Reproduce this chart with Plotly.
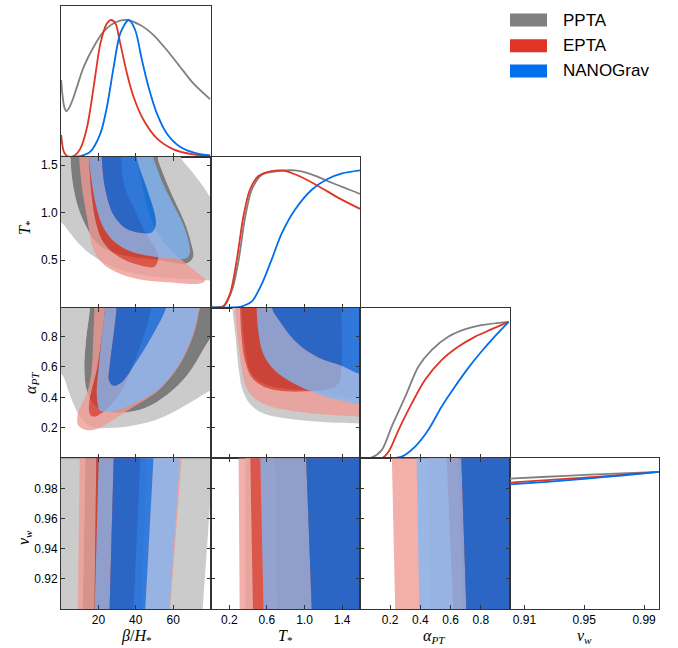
import plotly.graph_objects as go
from plotly.subplots import make_subplots

# ---------------- series / colours ----------------
series_names = ["PPTA", "EPTA", "NANOGrav"]
line_colors = {"PPTA": "#808080", "EPTA": "#E03424", "NANOGrav": "#006FED"}
fill_2s = {"PPTA": "rgb(203,203,203)", "EPTA": "rgba(240,154,146,0.78)", "NANOGrav": "rgba(128,183,246,0.78)"}
fill_1s = {"PPTA": "rgb(124,124,124)", "EPTA": "rgba(224,52,36,0.78)", "NANOGrav": "rgba(0,111,237,0.78)"}

# ---------------- axes ----------------
beta_range = [0, 80]
T_range = [0.0, 1.59]
alpha_range = [0.0, 0.99]
vw_range = [0.9, 1.0]
beta_ticks = [20, 40, 60]
T_xticks = [0.2, 0.6, 1.0, 1.4]
T_yticks = [0.5, 1.0, 1.5]
alpha_ticks = [0.2, 0.4, 0.6, 0.8]
vw_xticks = [0.91, 0.95, 0.99]
vw_yticks = [0.92, 0.94, 0.96, 0.98]
diag_range = [0, 1.1]

# ---------------- 1D marginals ----------------
beta_ppta_x = [0.09, 0.8, 1.8, 2.9, 4.5, 6.8, 12.2, 17.5, 22.8, 28.2, 35.3, 42.4, 49.5, 56.6, 63.7, 70.8, 79.9]
beta_ppta_p = [0.56, 0.45, 0.36, 0.333, 0.36, 0.438, 0.657, 0.803, 0.913, 0.974, 0.998, 0.961, 0.888, 0.779, 0.657, 0.535, 0.419]
beta_epta_x = [0.09, 1.5, 3.3, 6.8, 10.4, 14.0, 17.5, 21.1, 24.6, 26.8, 29.1, 31.7, 35.3, 38.8, 44.2, 51.3, 60.2, 70.8, 79.9]
beta_epta_p = [0.158, 0.037, 0.005, 0.005, 0.061, 0.219, 0.511, 0.827, 0.974, 0.998, 0.974, 0.827, 0.608, 0.438, 0.268, 0.134, 0.054, 0.017, 0.007]
beta_nano_x = [0.09, 10.4, 15.7, 21.1, 24.6, 28.2, 31.7, 36.2, 39.7, 43.3, 46.8, 51.3, 56.6, 63.7, 72.6, 79.9]
beta_nano_p = [0.0, 0.005, 0.037, 0.17, 0.365, 0.657, 0.90, 0.998, 0.925, 0.706, 0.511, 0.316, 0.17, 0.073, 0.024, 0.01]

T_ppta_x = [0.0, 0.08, 0.14, 0.23, 0.30, 0.37, 0.44, 0.55, 0.72, 0.90, 1.08, 1.29, 1.59]
T_ppta_p = [0.0, 0.0, 0.007, 0.129, 0.349, 0.666, 0.861, 0.97, 0.995, 1.0, 0.97, 0.91, 0.829]
T_epta_x = [0.0, 0.08, 0.14, 0.21, 0.28, 0.35, 0.42, 0.51, 0.65, 0.76, 0.93, 1.15, 1.36, 1.59]
T_epta_p = [0.0, 0.0, 0.012, 0.105, 0.349, 0.666, 0.861, 0.959, 0.995, 1.0, 0.963, 0.885, 0.80, 0.72]
T_nano_x = [0.0, 0.25, 0.33, 0.44, 0.55, 0.65, 0.76, 0.90, 1.08, 1.25, 1.40, 1.59]
T_nano_p = [0.0, 0.0, 0.007, 0.044, 0.178, 0.349, 0.544, 0.715, 0.861, 0.939, 0.978, 1.0]

a_ppta_x = [0.0, 0.08, 0.145, 0.21, 0.30, 0.386, 0.474, 0.584, 0.693, 0.803, 0.985]
a_ppta_p = [0.0, 0.007, 0.061, 0.231, 0.449, 0.668, 0.789, 0.886, 0.94, 0.971, 0.995]
a_epta_x = [0.0, 0.145, 0.19, 0.255, 0.343, 0.43, 0.54, 0.65, 0.76, 0.869, 0.985]
a_epta_p = [0.0, 0.0, 0.049, 0.206, 0.40, 0.571, 0.716, 0.813, 0.886, 0.94, 0.995]
a_nano_x = [0.0, 0.21, 0.277, 0.365, 0.452, 0.54, 0.628, 0.715, 0.803, 0.89, 0.985]
a_nano_p = [0.0, 0.0, 0.012, 0.085, 0.206, 0.376, 0.522, 0.656, 0.777, 0.886, 0.995]

vw_x = [0.9, 0.925, 0.95, 0.975, 1.0]
vw_ppta_p = [0.951, 0.965, 0.978, 0.99, 1.0]
vw_epta_p = [0.922, 0.94, 0.958, 0.978, 1.0]
vw_nano_p = [0.909, 0.928, 0.95, 0.974, 1.0]

# ---------------- 2D contours: beta vs T* (outer = 95%, inner = 68%) ----------------
bT_ppta_out_x = [-8, -8, 0.27, 4.0, 8.4, 14.7, 21.8, 30.7, 43.1, 57.3, 69.8, 80, 90, 90, 80, 76, 69.8, 64, 63]
bT_ppta_out_y = [1.8, 0.97, 0.895, 0.81, 0.70, 0.58, 0.486, 0.405, 0.346, 0.31, 0.297, 0.285, 0.28, 0.93, 1.16, 1.28, 1.44, 1.59, 1.8]
bT_ppta_in_x = [4.9, 5.4, 6.7, 9.3, 13.8, 18.2, 25.3, 34.2, 52.0, 67.1, 70.7, 69.4, 65.9, 60.0, 54.1, 51.6, 51]
bT_ppta_in_y = [1.8, 1.47, 1.26, 1.05, 0.84, 0.70, 0.60, 0.545, 0.50, 0.465, 0.53, 0.70, 0.91, 1.16, 1.44, 1.59, 1.8]
bT_epta_out_x = [9.7, 9.7, 11.5, 14.3, 17.0, 21.8, 30.7, 43.1, 59.1, 75.1, 77.2, 74.4, 66.2, 56.6, 50.2, 46.0, 43.1, 40.6, 40.3]
bT_epta_out_y = [1.8, 1.59, 1.23, 0.91, 0.63, 0.475, 0.363, 0.293, 0.265, 0.255, 0.29, 0.346, 0.475, 0.65, 0.84, 1.07, 1.33, 1.56, 1.8]
bT_epta_in_x = [15.0, 15.0, 16.4, 18.6, 21.8, 27.1, 33.3, 41.3, 48.4, 50.6, 52.0, 50.2, 45.2, 39.6, 34.2, 32.1, 31.6]
bT_epta_in_y = [1.8, 1.59, 1.19, 0.91, 0.72, 0.59, 0.51, 0.45, 0.423, 0.44, 0.53, 0.63, 0.79, 1.02, 1.26, 1.59, 1.8]
bT_nano_out_x = [15.0, 15.0, 16.4, 18.6, 21.8, 27.1, 36.0, 46.7, 59.1, 67.1, 68.9, 68.4, 65.3, 60.0, 54.7, 50.6, 49.3, 49.3]
bT_nano_out_y = [1.8, 1.59, 1.33, 1.09, 0.88, 0.72, 0.60, 0.545, 0.52, 0.52, 0.57, 0.685, 0.88, 1.09, 1.30, 1.51, 1.59, 1.8]
bT_nano_in_x = [21.8, 21.8, 23.6, 28.0, 34.2, 41.3, 48.4, 50.6, 50.2, 45.8, 40.4, 40.4]
bT_nano_in_y = [1.8, 1.59, 1.26, 0.98, 0.84, 0.79, 0.79, 0.86, 0.98, 1.26, 1.59, 1.8]

# ---------------- beta vs alpha_PT ----------------
ba_ppta_out_x = [-8, -8, 0.27, 4.0, 6.7, 11.1, 16.4, 25.3, 37.8, 52.0, 66.2, 79.7, 90, 90]
ba_ppta_out_y = [1.15, 0.60, 0.554, 0.444, 0.356, 0.257, 0.207, 0.198, 0.213, 0.257, 0.345, 0.444, 0.51, 1.15]
ba_ppta_in_x = [16.4, 15.6, 13.2, 12.5, 13.8, 17.3, 23.6, 32.4, 44.9, 57.3, 68.0, 76.9, 84.0, 90]
ba_ppta_in_y = [1.15, 0.996, 0.752, 0.576, 0.444, 0.356, 0.312, 0.30, 0.33, 0.422, 0.554, 0.73, 0.884, 1.15]
ba_epta_out_x = [17.9, 17.9, 17.3, 16.4, 14.3, 11.1, 8.8, 9.3, 13.8, 20.0, 27.1, 37.8, 52.0, 62.7, 69.8, 73.3, 74.8]
ba_epta_out_y = [1.15, 0.996, 0.796, 0.576, 0.444, 0.356, 0.279, 0.213, 0.185, 0.196, 0.246, 0.33, 0.444, 0.598, 0.774, 0.928, 1.15]
ba_epta_in_x = [23.6, 23.6, 21.8, 19.1, 16.4, 15.0, 15.6, 18.2, 20.9, 25.3, 32.4, 38.7, 44.0, 48.4, 48.9]
ba_epta_in_y = [1.15, 0.996, 0.796, 0.576, 0.444, 0.356, 0.286, 0.273, 0.29, 0.334, 0.444, 0.62, 0.796, 0.996, 1.15]
ba_nano_out_x = [23.6, 23.6, 21.8, 20.0, 19.1, 19.6, 20.9, 27.1, 37.4, 51.5, 62.1, 69.2, 72.8, 74.0]
ba_nano_out_y = [1.15, 0.996, 0.796, 0.576, 0.444, 0.356, 0.312, 0.308, 0.352, 0.449, 0.598, 0.774, 0.928, 1.15]
ba_nano_in_x = [29.8, 29.8, 28.0, 26.2, 25.7, 28.0, 32.4, 39.6, 48.4, 56.4, 57.5]
ba_nano_in_y = [1.15, 0.996, 0.796, 0.62, 0.51, 0.477, 0.499, 0.62, 0.796, 0.996, 1.15]

# ---------------- T* vs alpha_PT ----------------
Ta_ppta_out_x = [0.232, 0.232, 0.267, 0.302, 0.338, 0.42, 0.56, 0.79, 1.108, 1.589, 1.85, 1.85]
Ta_ppta_out_y = [1.15, 0.996, 0.796, 0.576, 0.455, 0.356, 0.295, 0.262, 0.242, 0.229, 0.225, 1.15]
Ta_ppta_in_x = [0.33, 0.33, 0.359, 0.437, 0.614, 1.038, 1.85, 1.85]
Ta_ppta_in_y = [1.15, 0.996, 0.752, 0.554, 0.477, 0.444, 0.427, 1.15]
Ta_epta_out_x = [0.26, 0.26, 0.288, 0.324, 0.366, 0.454, 0.614, 0.861, 1.144, 1.589, 1.85, 1.85]
Ta_epta_out_y = [1.15, 0.996, 0.796, 0.62, 0.488, 0.40, 0.345, 0.312, 0.29, 0.273, 0.268, 1.15]
Ta_epta_in_x = [0.313, 0.313, 0.33, 0.366, 0.437, 0.578, 0.79, 1.038, 1.25, 1.356, 1.39, 1.39, 1.39]
Ta_epta_in_y = [1.15, 0.996, 0.796, 0.642, 0.532, 0.466, 0.44, 0.44, 0.455, 0.488, 0.576, 0.996, 1.15]
Ta_nano_out_x = [0.49, 0.49, 0.507, 0.56, 0.684, 0.896, 1.144, 1.39, 1.589, 1.85, 1.85]
Ta_nano_out_y = [1.15, 0.996, 0.84, 0.686, 0.576, 0.488, 0.422, 0.378, 0.356, 0.345, 1.15]
Ta_nano_in_x = [0.649, 0.649, 0.755, 0.932, 1.144, 1.39, 1.589, 1.85, 1.85]
Ta_nano_in_y = [1.15, 0.996, 0.884, 0.752, 0.664, 0.609, 0.554, 0.54, 1.15]

# ---------------- v_w rows: band edges [at v_w=1.0, at v_w=0.9] ----------------
# order: outer-left, outer-right, inner-left, inner-right
bv_ppta = [[-10, -10], [81.5, 75.8], [13.1, 11.6], [46.0, 43.0]]
bv_epta = [[10.0, 9.0], [64.6, 58.4], [18.9, 17.9], [42.4, 38.8]]
bv_nano = [[20.2, 18.0], [63.7, 58.0], [28.2, 26.0], [49.5, 45.1]]
Tv_ppta = [[0.37, 0.37], [2.0, 2.0], [0.688, 0.705], [2.0, 2.0]]
Tv_epta = [[0.299, 0.31], [2.0, 2.0], [0.423, 0.451], [2.0, 2.0]]
Tv_nano = [[0.529, 0.564], [2.0, 2.0], [1.017, 1.077], [2.0, 2.0]]
av_ppta = [[0.45, 0.47], [1.2, 1.2], [0.65, 0.68], [1.2, 1.2]]
av_epta = [[0.211, 0.233], [1.2, 1.2], [0.573, 0.617], [1.2, 1.2]]
av_nano = [[0.375, 0.393], [1.2, 1.2], [0.671, 0.704], [1.2, 1.2]]

# ---------------- figure ----------------
W, H = 678, 648
ML, MR, MT, MB = 61, 19, 6, 39
fig = make_subplots(rows=4, cols=4, horizontal_spacing=0, vertical_spacing=0,
                    specs=[[{} if c <= r else None for c in range(4)] for r in range(4)])


def px_x(px):
    return (px - ML) / (W - ML - MR)


def px_y(py):
    return 1 - (py - MT) / (H - MT - MB)


def add_fill(x, y, color, row, col, shape="spline"):
    fig.add_trace(go.Scatter(x=x, y=y, mode="lines", fill="toself", fillcolor=color,
                             line=dict(width=0, shape=shape, smoothing=1.0),
                             hoverinfo="skip", showlegend=False), row=row, col=col)


def add_contours(name, ox, oy, ix, iy, row, col):
    # 95% band = outer region minus the 68% region
    bx = list(ox) + list(ix)[::-1]
    by = list(oy) + list(iy)[::-1]
    clean_x, clean_y = [], []
    for a, b in zip(bx, by):
        if clean_x and clean_x[-1] == a and clean_y[-1] == b:
            continue
        clean_x.append(a)
        clean_y.append(b)
    add_fill(clean_x, clean_y, fill_2s[name], row, col)
    add_fill(ix, iy, fill_1s[name], row, col)


def add_bands(name, edges, row, col):
    vt, vb = 1.02, 0.88

    def at(e, v):
        return e[1] + (e[0] - e[1]) * (v - 0.9) / 0.1
    oL, oR, iL, iR = edges
    bx = [at(oL, vb), at(oL, vt), at(iL, vt), at(iL, vb), at(iR, vb), at(iR, vt), at(oR, vt), at(oR, vb)]
    by = [vb, vt, vt, vb, vb, vt, vt, vb]
    add_fill(bx, by, fill_2s[name], row, col, shape="linear")
    add_fill([at(iL, vb), at(iL, vt), at(iR, vt), at(iR, vb)], [vb, vt, vt, vb],
             fill_1s[name], row, col, shape="linear")


panels2d = {
    (2, 1): [("PPTA", bT_ppta_out_x, bT_ppta_out_y, bT_ppta_in_x, bT_ppta_in_y),
             ("EPTA", bT_epta_out_x, bT_epta_out_y, bT_epta_in_x, bT_epta_in_y),
             ("NANOGrav", bT_nano_out_x, bT_nano_out_y, bT_nano_in_x, bT_nano_in_y)],
    (3, 1): [("PPTA", ba_ppta_out_x, ba_ppta_out_y, ba_ppta_in_x, ba_ppta_in_y),
             ("EPTA", ba_epta_out_x, ba_epta_out_y, ba_epta_in_x, ba_epta_in_y),
             ("NANOGrav", ba_nano_out_x, ba_nano_out_y, ba_nano_in_x, ba_nano_in_y)],
    (3, 2): [("PPTA", Ta_ppta_out_x, Ta_ppta_out_y, Ta_ppta_in_x, Ta_ppta_in_y),
             ("EPTA", Ta_epta_out_x, Ta_epta_out_y, Ta_epta_in_x, Ta_epta_in_y),
             ("NANOGrav", Ta_nano_out_x, Ta_nano_out_y, Ta_nano_in_x, Ta_nano_in_y)],
}
for (r, c), lst in panels2d.items():
    for name, ox, oy, ix, iy in lst:
        add_contours(name, ox, oy, ix, iy, r, c)

bands = {
    (4, 1): [("PPTA", bv_ppta), ("EPTA", bv_epta), ("NANOGrav", bv_nano)],
    (4, 2): [("PPTA", Tv_ppta), ("EPTA", Tv_epta), ("NANOGrav", Tv_nano)],
    (4, 3): [("PPTA", av_ppta), ("EPTA", av_epta), ("NANOGrav", av_nano)],
}
for (r, c), lst in bands.items():
    for name, edges in lst:
        add_bands(name, edges, r, c)

diag = {
    1: [("PPTA", beta_ppta_x, beta_ppta_p), ("EPTA", beta_epta_x, beta_epta_p), ("NANOGrav", beta_nano_x, beta_nano_p)],
    2: [("PPTA", T_ppta_x, T_ppta_p), ("EPTA", T_epta_x, T_epta_p), ("NANOGrav", T_nano_x, T_nano_p)],
    3: [("PPTA", a_ppta_x, a_ppta_p), ("EPTA", a_epta_x, a_epta_p), ("NANOGrav", a_nano_x, a_nano_p)],
    4: [("PPTA", vw_x, vw_ppta_p), ("EPTA", vw_x, vw_epta_p), ("NANOGrav", vw_x, vw_nano_p)],
}
for k, lst in diag.items():
    for name, x, p in lst:
        fig.add_trace(go.Scatter(x=x, y=p, mode="lines",
                                 line=dict(color=line_colors[name], width=1.8, shape="spline", smoothing=0.8),
                                 hoverinfo="skip", showlegend=False), row=k, col=k)

# ---------------- axes styling ----------------
var_range = [beta_range, T_range, alpha_range, vw_range]
var_xticks = [beta_ticks, T_xticks, alpha_ticks, vw_xticks]
var_yticks = [None, T_yticks, alpha_ticks, vw_yticks]
var_fmt = ["d", ".1f", ".1f", ".2f"]
tickfont = dict(family="Liberation Sans, Arial, sans-serif", size=12, color="black")
axcommon = dict(showline=True, linecolor="#333333", linewidth=1, showgrid=False, zeroline=False,
                ticks="inside", ticklen=4, tickwidth=1, tickcolor="#333333", tickfont=tickfont)

for r in range(4):
    for c in range(r + 1):
        fig.update_xaxes(range=var_range[c], tickvals=var_xticks[c], tickformat=var_fmt[c],
                         showticklabels=(r == 3), mirror=(True if r == c else "ticks"),
                         row=r + 1, col=c + 1, **axcommon)
        if r == c:
            fig.update_yaxes(range=diag_range, showticklabels=False, mirror=True,
                             row=r + 1, col=c + 1,
                             **{**axcommon, "ticks": ""})
        else:
            fig.update_yaxes(range=var_range[r], tickvals=var_yticks[r], tickformat=var_fmt[r],
                             showticklabels=(c == 0), mirror="ticks",
                             row=r + 1, col=c + 1, **axcommon)

# ---------------- axis titles ----------------
tfont = dict(family="Liberation Serif, DejaVu Serif, serif", size=16, color="black")
xtitles = [("<i>β</i>/<i>H</i><sub>*</sub>", 136),
           ("<i>T</i><sub>*</sub>", 285),
           ("<i>α</i><sub><i>PT</i></sub>", 434),
           ("<i>v</i><sub><i>w</i></sub>", 584)]
for txt, px in xtitles:
    fig.add_annotation(text=txt, x=px_x(px), y=px_y(625), xref="paper", yref="paper",
                       showarrow=False, font=tfont, xanchor="center", yanchor="top")
ytitles = [("<i>T</i><sub>*</sub>", 25, 228),
           ("<i>α</i><sub><i>PT</i></sub>", 31, 383),
           ("<i>v</i><sub><i>w</i></sub>", 24, 538)]
for txt, px, py in ytitles:
    fig.add_annotation(text=txt, x=px_x(px), y=px_y(py), xref="paper", yref="paper",
                       showarrow=False, font=tfont, textangle=-90, xanchor="center", yanchor="middle")

# ---------------- legend ----------------
leg_rows = [20, 45.7, 71]
for name, cy in zip(series_names, leg_rows):
    fig.add_shape(type="rect", xref="paper", yref="paper",
                  x0=px_x(510), x1=px_x(547), y0=px_y(cy + 6.5), y1=px_y(cy - 6.5),
                  fillcolor=line_colors[name], line=dict(width=0))
    fig.add_annotation(text=name, x=px_x(561), y=px_y(cy), xref="paper", yref="paper",
                       showarrow=False, xanchor="left", yanchor="middle",
                       font=dict(family="Liberation Sans, Arial, sans-serif", size=17, color="black"))

fig.update_layout(width=W, height=H, margin=dict(l=ML, r=MR, t=MT, b=MB, autoexpand=False),
                  paper_bgcolor="white", plot_bgcolor="white", showlegend=False)

fig.write_html("out.html", config={"displayModeBar": False, "staticPlot": True},
               post_script="document.body.style.margin='0px';document.body.style.overflow='hidden';")
